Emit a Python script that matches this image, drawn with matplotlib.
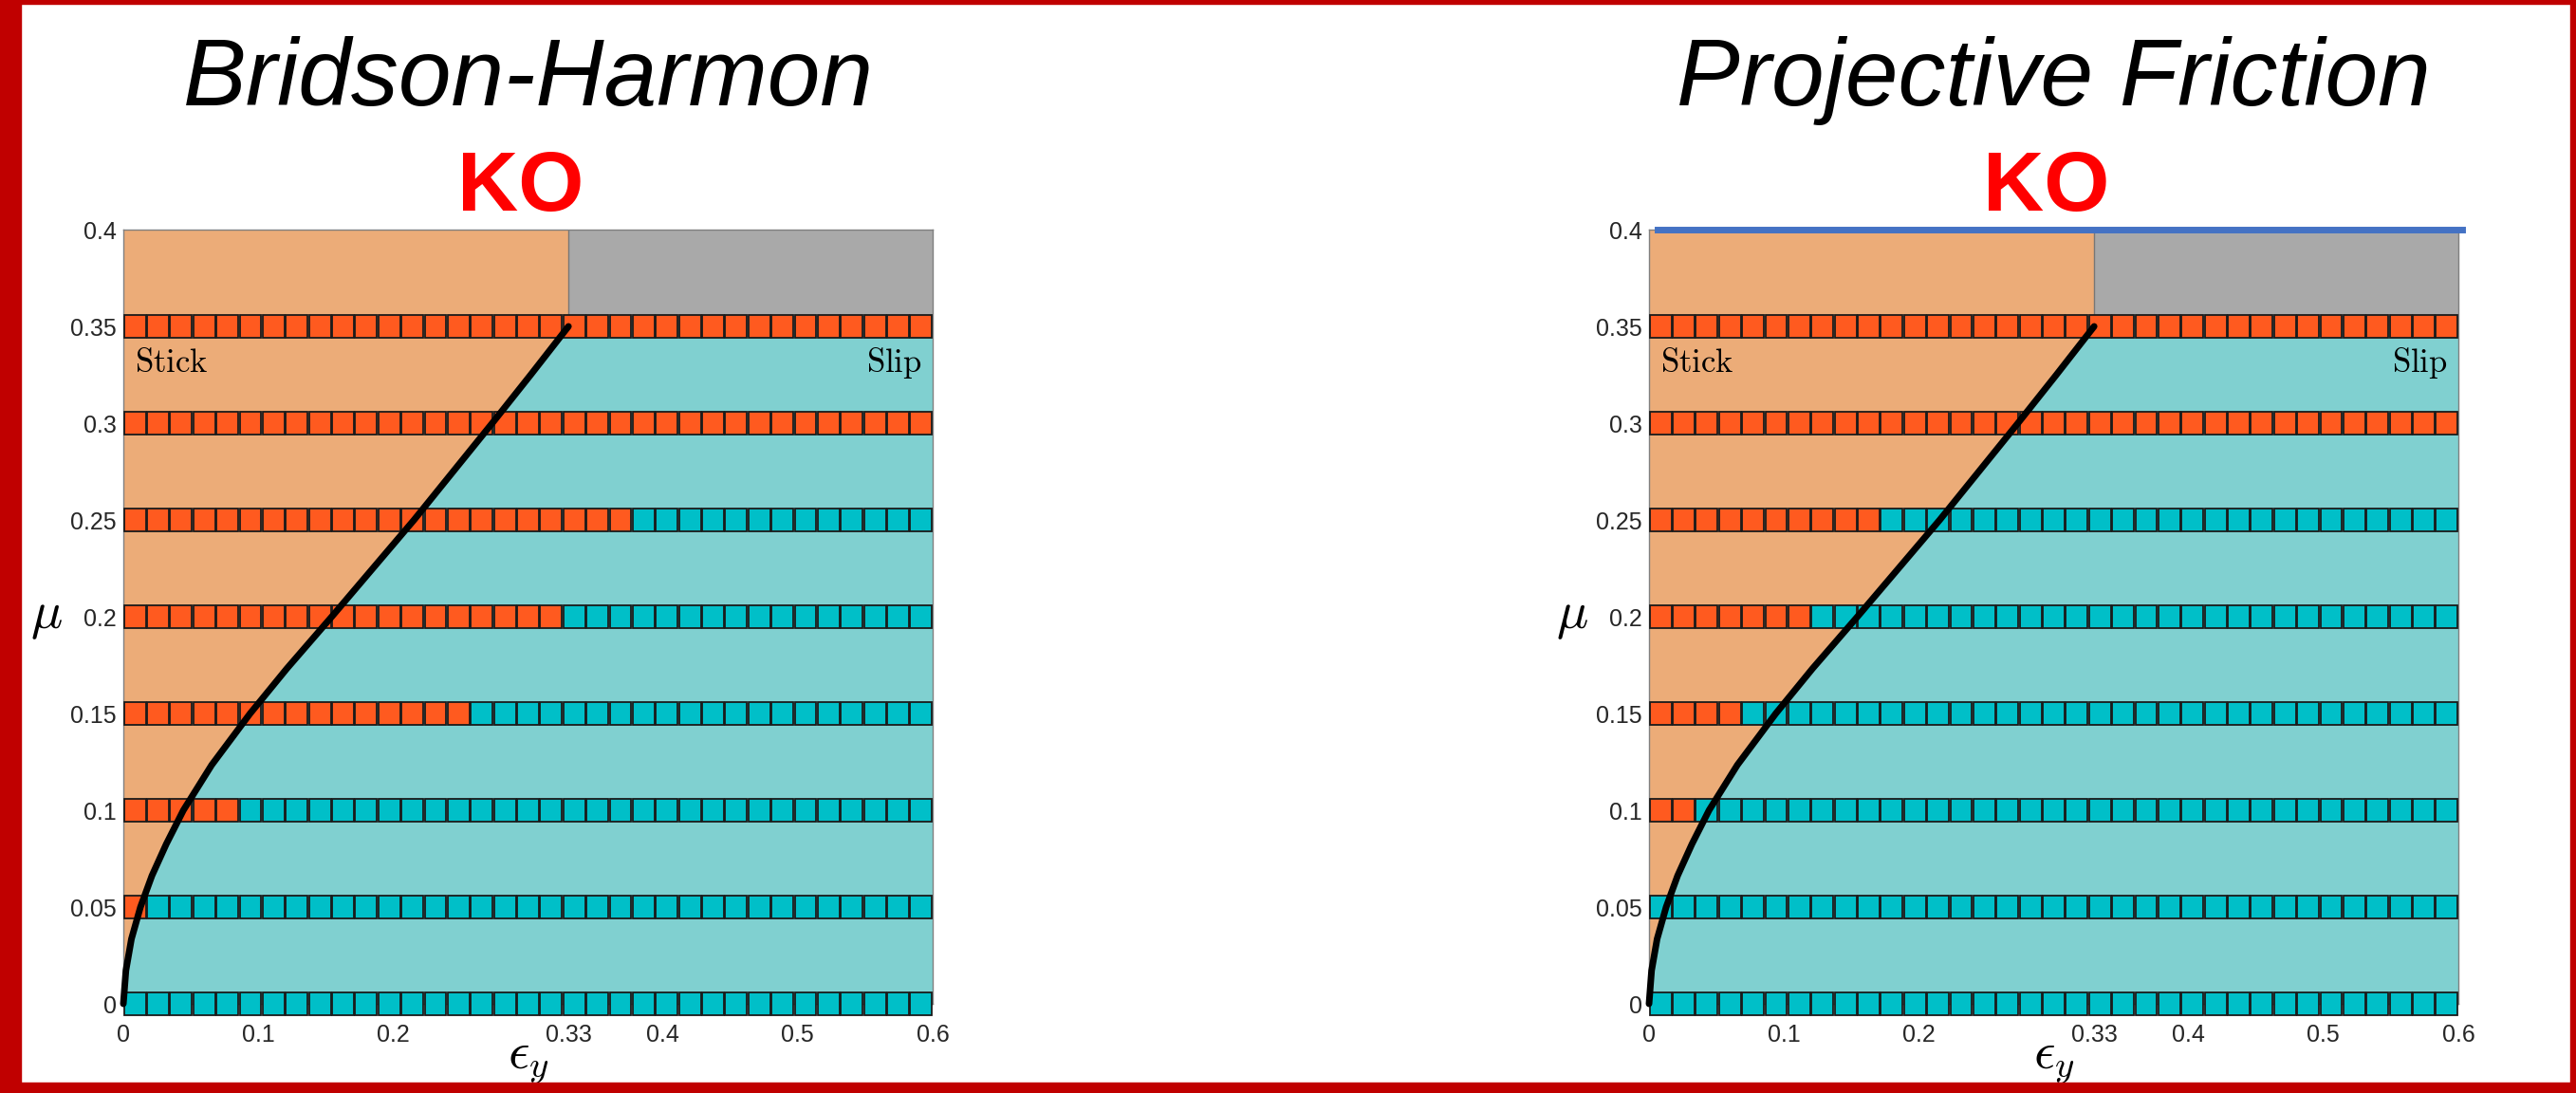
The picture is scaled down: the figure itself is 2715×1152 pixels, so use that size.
import numpy as np
import matplotlib.pyplot as plt

plt.rcParams["mathtext.fontset"] = "cm"
plt.rcParams["font.family"] = ["Liberation Sans", "DejaVu Sans"]

# friction coefficients of the rows and number of stick columns per row
mu_rows = [0.0, 0.05, 0.1, 0.15, 0.2, 0.25, 0.3, 0.35]
n_cols = 35
bh_stick = [0, 1, 5, 15, 19, 22, 35, 35]
pf_stick = [0, 0, 2, 4, 7, 10, 35, 35]

# analytic stick/slip boundary
curve_eps = [0.0, 0.0019, 0.0060, 0.0127, 0.0212, 0.0318, 0.0445, 0.0655,
             0.0940, 0.1212, 0.1545, 0.185, 0.2155, 0.2445, 0.2735, 0.302, 0.33]
curve_mu = [0.0, 0.0172, 0.0335, 0.05, 0.0662, 0.0825, 0.1, 0.1234,
            0.15, 0.1732, 0.2, 0.225, 0.25, 0.275, 0.3, 0.325, 0.35]

x_ticks = [0, 0.1, 0.2, 0.33, 0.4, 0.5, 0.6]
x_ticklabels = ["0", "0.1", "0.2", "0.33", "0.4", "0.5", "0.6"]
y_ticks = [0, 0.05, 0.1, 0.15, 0.2, 0.25, 0.3, 0.35, 0.4]
y_ticklabels = ["0", "0.05", "0.1", "0.15", "0.2", "0.25", "0.3", "0.35", "0.4"]

titles = ["Bridson-Harmon", "Projective Friction"]

STICK_BG = "#ECAC78"
SLIP_BG = "#80D0D0"
GRAY_BG = "#A9A9A9"
STICK_SQ = "#FF5A1F"
SLIP_SQ = "#00BFC8"

fig = plt.figure(figsize=(27.15, 11.52), dpi=100)

# red frame around the figure
frame = dict(color="#C00000", transform=fig.transFigure, zorder=10)
fig.patches.append(plt.Rectangle((0, 0), 22 / 2715, 1, **frame))
fig.patches.append(plt.Rectangle((1 - 6 / 2715, 0), 6 / 2715, 1, **frame))
fig.patches.append(plt.Rectangle((0, 1 - 4 / 1152), 1, 4 / 1152, **frame))
fig.patches.append(plt.Rectangle((0, 0), 1, 11 / 1152, **frame))

lefts = [130 / 2715, 1738 / 2715]
ax_w = 853 / 2715
ax_b = (1152 - 1058) / 1152
ax_h = 816 / 1152

col_w = 0.6 / n_cols
col_x = (np.arange(n_cols) + 0.5) * col_w
sq_h = 0.0114

for i, stick in enumerate([bh_stick, pf_stick]):
    ax = fig.add_axes([lefts[i], ax_b, ax_w, ax_h])
    ax.set_xlim(0, 0.6)
    ax.set_ylim(0, 0.4)
    ax.set_facecolor(SLIP_BG)

    ax.fill_betweenx(curve_mu, 0, curve_eps, color=STICK_BG, lw=0, zorder=1)
    ax.fill_between([0, 0.33], 0.35, 0.4, color=STICK_BG, lw=0, zorder=1)
    ax.fill_between([0.33, 0.6], 0.35, 0.4, color=GRAY_BG, lw=0, zorder=1)
    ax.plot([0.33, 0.33], [0.35, 0.4], color="#777777", lw=1, zorder=1.5)

    for mu, n in zip(mu_rows, stick):
        colors = [STICK_SQ if k < n else SLIP_SQ for k in range(n_cols)]
        ax.bar(col_x, sq_h, width=col_w * 0.94, bottom=mu - sq_h / 2,
               color=colors, edgecolor="#1a1a1a", linewidth=1.3, zorder=3,
               clip_on=False)

    ax.plot(curve_eps, curve_mu, color="black", lw=5, zorder=4,
            solid_capstyle="round", solid_joinstyle="round", clip_on=False)

    if i == 1:
        ax.plot([0.006, 0.603], [0.4, 0.4], color="#4472C4", lw=5,
                zorder=5, clip_on=False)

    ax.text(0.0085, 0.331, r"$\mathrm{Stick}$", fontsize=25, va="center",
            ha="left", zorder=6)
    ax.text(0.592, 0.331, r"$\mathrm{Slip}$", fontsize=25, va="center",
            ha="right", zorder=6)

    ax.set_xticks(x_ticks)
    ax.set_xticklabels(x_ticklabels)
    ax.set_yticks(y_ticks)
    ax.set_yticklabels(y_ticklabels)
    ax.tick_params(length=0, labelsize=18, colors="#262626")
    ax.tick_params(axis="x", pad=15)
    ax.tick_params(axis="y", pad=5)
    for s in ax.spines.values():
        s.set_color("#808080")
        s.set_linewidth(1)

    ax.set_xlabel(r"$\epsilon_y$", fontsize=40, labelpad=-8)
    ax.set_ylabel(r"$\mu$", fontsize=40, rotation=0, labelpad=18,
                  va="center")

    cx = lefts[i] + ax_w / 2
    fig.text(cx, 1 - 111 / 1152, titles[i], fontsize=72, style="italic",
             ha="center", va="baseline")
    fig.text(cx - 0.003, 1 - 222 / 1152, "KO", fontsize=64, weight="bold",
             color="#FF0000", ha="center", va="baseline")

fig.savefig("out.png", dpi=100)
